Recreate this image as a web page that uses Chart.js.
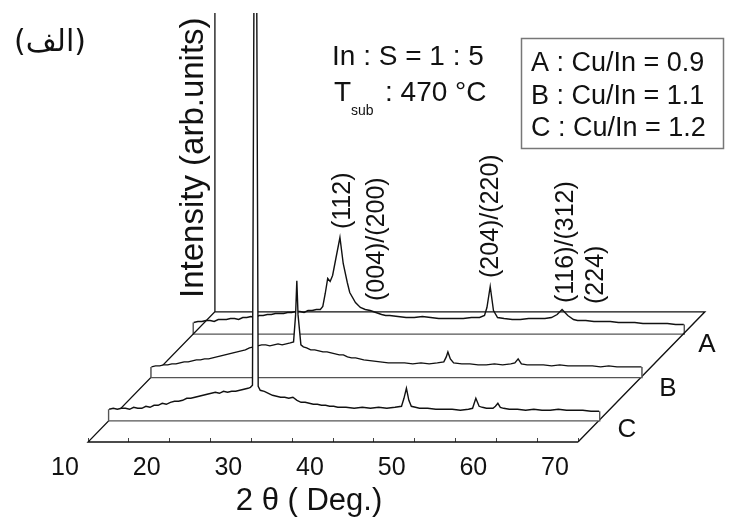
<!DOCTYPE html>
<html lang="fa">
<head>
  <meta charset="UTF-8" />
  <title>XRD - In:S = 1:5</title>
  <script src="https://cdn.jsdelivr.net/npm/chart.js"></script>
  <style>
    html, body { margin: 0; padding: 0; background: #fff; }
  </style>
</head>
<body>
  <canvas id="grafico" width="749" height="525"></canvas>

  <script>
    // 2θ (deg) and intensity (arb. units, above each sample's own baseline)
    const thetaA = [10, 10.5, 11, 11.5, 12, 12.5, 13, 13.5, 14, 14.5, 15, 15.5, 16, 16.5, 17, 17.5, 18, 18.5, 19, 19.5,
      20, 20.5, 21, 21.5, 22, 22.5, 23, 23.5, 24, 24.5, 25, 25.5, 25.8, 26.1, 26.4, 26.7, 27, 27.4, 27.9, 28.3,
      28.8, 29.1, 29.8, 30.4, 31, 31.6, 32.3, 33, 33.5, 34, 35, 36, 37, 38, 39, 40, 41, 42, 43, 44,
      45, 45.6, 45.9, 46.3, 46.7, 47.2, 48, 49, 50, 51, 52, 53, 53.8, 54.5, 55.1, 55.8, 56.5, 57, 58, 59,
      60, 61, 62, 63, 64, 65, 66, 67, 68, 69, 70];
    const intensA = [11, 12, 12, 13, 13, 12, 14, 14, 14, 15, 15, 14, 16, 16, 17, 16, 18, 18, 19, 19,
      20, 20, 20, 21, 21, 22, 22, 21, 23, 23, 24, 24, 27, 40, 55, 52, 58, 75, 96, 70,
      51, 41, 31, 26, 24, 23, 21, 19, 18, 18, 17, 16, 16, 17, 16, 15, 15, 15, 15, 16,
      16, 18, 26, 47, 23, 16, 15, 14, 14, 15, 15, 15, 16, 19, 24, 18, 14, 13, 13, 12,
      12, 12, 11, 11, 11, 10, 10, 10, 10, 9, 9];

    const thetaB = [10, 10.5, 11, 11.5, 12, 12.5, 13, 13.5, 14, 14.5, 15, 15.5, 16, 16.5, 17, 17.5, 18, 18.5, 19, 19.5,
      20, 20.5, 21, 21.5, 22, 22.5, 23, 23.5, 24, 24.5, 25, 25.5, 26, 26.5, 27, 27.4, 27.65, 27.8, 27.95, 28.3,
      28.6, 29, 29.5, 30, 30.5, 31, 31.5, 32, 32.5, 33, 33.5, 34, 34.5, 35, 35.5, 36, 37, 38, 39, 40,
      41, 42, 43, 44, 45, 45.8, 46.1, 46.3, 46.6, 47, 48, 49, 50, 51, 52, 53, 54, 54.5, 54.9, 55.3,
      56, 57, 58, 59, 60, 61, 62, 63, 64, 65, 66, 67, 68, 69, 70];
    const intensB = [10, 11, 11, 12, 12, 13, 13, 14, 15, 15, 16, 17, 17, 18, 18, 19, 20, 21, 22, 23,
      24, 25, 26, 27, 29, 30, 31, 32, 32, 31, 32, 33, 32, 33, 34, 35, 62, 96, 62, 32,
      30, 29, 27, 27, 26, 25, 25, 24, 23, 22, 22, 20, 19, 19, 18, 17, 16, 15, 14, 14,
      14, 13, 14, 13, 14, 15, 20, 25, 18, 14, 13, 13, 12, 12, 13, 12, 13, 14, 18, 13,
      12, 12, 12, 11, 12, 11, 11, 11, 11, 10, 11, 10, 10, 10, 10];

    const thetaC = [10, 10.5, 11, 11.5, 12, 12.5, 13, 13.5, 14, 14.5, 15, 15.5, 16, 16.5, 17, 17.5, 18, 18.5, 19, 19.5,
      20, 20.5, 21, 21.5, 22, 22.5, 23, 23.5, 24, 24.5, 25, 25.5, 26, 26.5, 27, 27.3, 27.55, 27.75, 28.05, 28.25,
      28.5, 29, 29.5, 30, 30.5, 31, 31.5, 32, 32.5, 33, 33.5, 34, 34.5, 35, 35.5, 36, 36.5, 37, 37.5, 38,
      39, 40, 41, 42, 43, 44, 45, 45.8, 46.1, 46.4, 46.7, 47, 47.5, 48, 49, 50, 51, 52, 53, 54,
      54.5, 54.9, 55.3, 55.7, 56.2, 57, 57.3, 57.6, 57.9, 58.3, 59, 60, 61, 62, 63, 64, 65, 66, 67, 68,
      69, 70];
    const intensC = [11, 12, 11, 12, 12, 11, 13, 12, 12, 14, 13, 15, 15, 17, 16, 18, 19, 19, 20, 22,
      22, 23, 24, 25, 26, 27, 28, 27, 29, 28, 29, 29, 30, 31, 32, 33, 35, 470, 470, 34,
      30, 29, 27, 25, 24, 23, 23, 22, 23, 20, 18, 18, 17, 16, 16, 15, 15, 14, 14, 13,
      13, 12, 13, 12, 13, 12, 13, 14, 22, 32, 20, 14, 13, 12, 12, 11, 11, 11, 10, 11,
      12, 22, 14, 13, 12, 12, 14, 17, 13, 12, 11, 11, 10, 11, 10, 10, 11, 10, 10, 10,
      9, 9];

    const amostras = ["A", "B", "C"];
    const legenda = ["A : Cu/In = 0.9", "B : Cu/In = 1.1", "C : Cu/In = 1.2"];
    const picos = ["(112)", "(004)/(200)", "(204)/(220)", "(116)/(312)", "(224)"];
    const ticksX = [10, 20, 30, 40, 50, 60, 70];

    // oblique projection of the waterfall: one depth step = DX in 2θ, DY in intensity
    const DX = 5.18, DY = 43.4, TOPO = 429, XMAX = 88;
    const prof = { A: 2.5, B: 1.5, C: 0.5 };

    function projetar(teta, inten, d) {
      return teta.map((t, i) => ({ x: t + d * DX, y: inten[i] + d * DY }));
    }

    function placa(teta, inten, d) {
      const n = teta.length - 1;
      return [
        { x: teta[0] + d * DX, y: inten[0] + d * DY },
        { x: teta[0] + d * DX, y: d * DY },
        { x: teta[n] + d * DX, y: d * DY },
        { x: teta[n] + d * DX, y: inten[n] + d * DY }
      ];
    }

    const clipTopo = { left: false, top: 0, right: false, bottom: false };

    function curva(teta, inten, d, ordem) {
      return {
        data: projetar(teta, inten, d),
        borderColor: "#111",
        borderWidth: 1.4,
        backgroundColor: "#fff",
        fill: { value: d * DY },
        pointRadius: 0,
        tension: 0,
        clip: clipTopo,
        order: ordem
      };
    }

    function base(teta, inten, d, ordem) {
      return {
        data: placa(teta, inten, d),
        borderColor: "#555",
        borderWidth: 2.5,
        fill: false,
        pointRadius: 0,
        tension: 0,
        clip: false,
        order: ordem
      };
    }

    const x0 = ticksX[0], x1 = ticksX[ticksX.length - 1];
    const moldura = {
      data: [
        { x: x1, y: 0 }, { x: x0, y: 0 }, { x: x0 + 3 * DX, y: 3 * DY }, { x: x0 + 3 * DX, y: TOPO },
        { x: x0 + 3 * DX, y: null },
        { x: x0 + 3 * DX, y: 3 * DY }, { x: x1 + 3 * DX, y: 3 * DY }, { x: x1, y: 0 }
      ],
      borderColor: "#111",
      borderWidth: 1.3,
      fill: false,
      pointRadius: 0,
      spanGaps: false,
      clip: false,
      order: 5
    };

    const textos = {
      id: "textos",
      afterDraw(chart) {
        const ctx = chart.ctx;
        const sx = chart.scales.x;
        ctx.save();
        ctx.fillStyle = "#111";
        ctx.textAlign = "left";
        ctx.textBaseline = "alphabetic";

        // texto vertical
        function vertical(txt, px, py, fonte, baseLine) {
          ctx.save();
          ctx.translate(px, py);
          ctx.rotate(-Math.PI / 2);
          ctx.font = fonte;
          ctx.textBaseline = baseLine || "middle";
          ctx.fillText(txt, 0, 0);
          ctx.restore();
        }

        ctx.font = "30px 'DejaVu Sans', Arial";
        ctx.textAlign = "center";
        ctx.fillText("(الف)", 50, 51);

        ctx.textAlign = "left";
        ctx.font = "28px Arial";
        ctx.fillText("In : S = 1 : 5", 332, 65);
        ctx.fillText("T", 334, 101);
        ctx.fillText(": 470 °C", 385, 101);
        ctx.font = "14px Arial";
        ctx.fillText("sub", 351, 115);

        // legenda
        ctx.strokeStyle = "#777";
        ctx.lineWidth = 1.5;
        ctx.strokeRect(521.5, 38.5, 202, 110);
        ctx.font = "27px Arial";
        legenda.forEach((t, i) => ctx.fillText(t, 531, 71 + i * 32.5));

        // rótulos dos picos (sobre a curva A)
        const pA = t => sx.getPixelForValue(t + prof.A * DX);
        vertical(picos[0], pA(28.3), 229, "25px Arial");
        vertical(picos[1], pA(32.4), 301, "25px Arial");
        vertical(picos[2], pA(46.4), 278, "25px Arial");
        vertical(picos[3], pA(55.6), 303, "25px Arial");
        vertical(picos[4], pA(59.3), 304, "25px Arial");

        vertical("Intensity (arb.units)", 203, 298, "33px Arial", "alphabetic");

        // nomes das amostras
        ctx.font = "26px Arial";
        ctx.textAlign = "center";
        ctx.textBaseline = "middle";
        ctx.fillText(amostras[0], 707, 345);
        ctx.fillText(amostras[1], 668, 389);
        ctx.fillText(amostras[2], 627, 430);

        ctx.textBaseline = "alphabetic";
        ctx.font = "31px Arial";
        ctx.fillText("2 θ ( Deg.)", sx.getPixelForValue(40) - 24, 510);
        ctx.restore();
      }
    };

    new Chart(document.getElementById("grafico"), {
      type: "line",
      data: {
        datasets: [
          curva(thetaC, intensC, prof.C, 1),
          base(thetaC, intensC, prof.C, 2),
          curva(thetaB, intensB, prof.B, 3),
          base(thetaB, intensB, prof.B, 4),
          moldura,
          curva(thetaA, intensA, prof.A, 6),
          base(thetaA, intensA, prof.A, 7)
        ]
      },
      options: {
        responsive: false,
        animation: false,
        layout: { padding: { left: 88, right: 24, top: 13, bottom: 0 } },
        plugins: {
          legend: { display: false },
          tooltip: { enabled: false },
          filler: { drawTime: "beforeDatasetDraw" }
        },
        scales: {
          x: {
            type: "linear",
            min: x0,
            max: XMAX,
            afterFit: s => { s.height = 83; },
            afterBuildTicks: s => { s.ticks = s.ticks.filter(t => t.value <= x1); },
            border: { display: false },
            grid: { drawOnChartArea: false, drawTicks: true, tickLength: -4, color: "#444" },
            ticks: {
              stepSize: 5,
              autoSkip: false,
              maxRotation: 0,
              padding: 15,
              labelOffset: -23,
              color: "#111",
              font: { family: "Arial", size: 25 },
              callback: v => ticksX.includes(v) ? String(v) : ""
            }
          },
          y: {
            type: "linear",
            display: false,
            min: 0,
            max: TOPO
          }
        }
      },
      plugins: [textos]
    });
  </script>
</body>
</html>
